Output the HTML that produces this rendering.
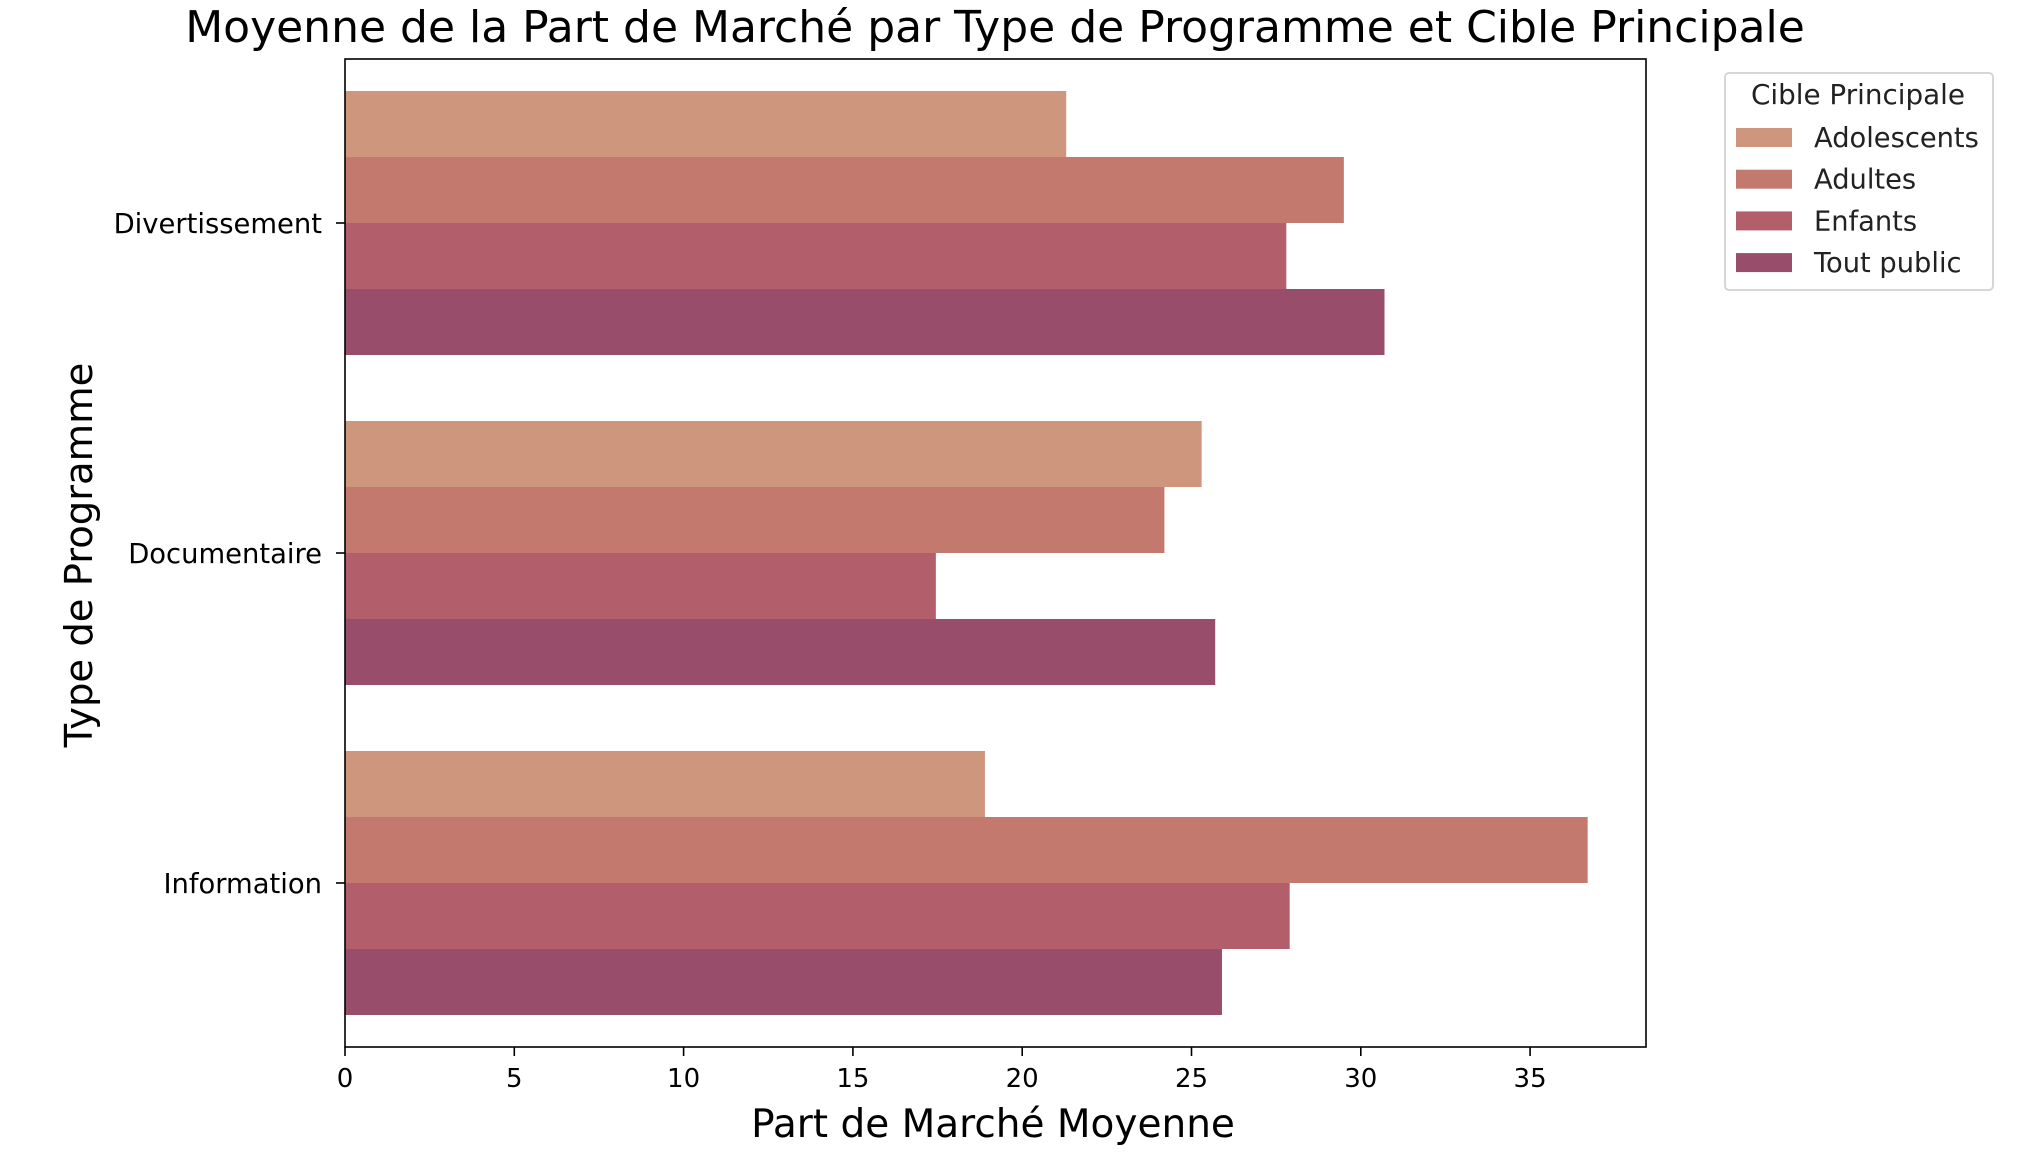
<!DOCTYPE html>
<html><head><meta charset="utf-8"><style>
html,body{margin:0;padding:0;background:#fff;}
svg{display:block;font-family:"DejaVu Sans","Liberation Sans",sans-serif;}
</style></head><body>
<svg id="chart" width="2042" height="1160" viewBox="0 0 2042 1160" xmlns="http://www.w3.org/2000/svg">
<text x="995" y="42" font-size="44" text-anchor="middle" fill="#000">Moyenne de la Part de Marché par Type de Programme et Cible Principale</text>
<g id="bars"></g>
<g id="axes"></g>
<text x="993" y="1137" font-size="39" text-anchor="middle" fill="#000">Part de Marché Moyenne</text>
<text x="0" y="0" font-size="38.5" text-anchor="middle" fill="#000" transform="translate(92,555) rotate(-90)">Type de Programme</text>
<g id="legend"></g>
</svg>
<script>
const categories = ["Divertissement", "Documentaire", "Information"];
const seriesNames = ["Adolescents", "Adultes", "Enfants", "Tout public"];
const adolescents = [21.3, 25.3, 18.9];
const adultes = [29.5, 24.2, 36.7];
const enfants = [27.8, 17.45, 27.9];
const toutPublic = [30.7, 25.7, 25.9];
const xTicks = [0, 5, 10, 15, 20, 25, 30, 35];
const xMax = 38.5;

const series = [adolescents, adultes, enfants, toutPublic];
const colors = ["#cf967e", "#c4796e", "#b25f6b", "#984e6a"];
const NS = "http://www.w3.org/2000/svg";
const L = 345, R = 1646, T = 59, B = 1047;
const xs = v => L + v * 33.86;
const groupCenter = i => 223 + i * 330;
const barH = 66;

function mk(tag, attrs, parent) {
  const e = document.createElementNS(NS, tag);
  for (const k in attrs) e.setAttribute(k, attrs[k]);
  parent.appendChild(e);
  return e;
}
const bars = document.getElementById("bars");
categories.forEach((c, i) => {
  series.forEach((s, j) => {
    const y = groupCenter(i) - 2 * barH + j * barH;
    const r = mk("rect", {x: L, y: y, width: xs(s[i]) - L, height: barH, fill: colors[j]}, bars);
    
    
  });
});
const axes = document.getElementById("axes");
const frame = mk("rect", {x: L, y: T, width: R - L, height: B - T, fill: "none", stroke: "#000", "stroke-width": 1.6}, axes);


xTicks.forEach(t => {
  const x = xs(t);
  const tk = mk("line", {x1: x, y1: B, x2: x, y2: B + 9, stroke: "#000", "stroke-width": 1.6}, axes);
  
  
  const tl = mk("text", {x: x, y: B + 40, "font-size": 26, "text-anchor": "middle", fill: "#000"}, axes);
  tl.textContent = t;
  
  
});
categories.forEach((c, i) => {
  const y = groupCenter(i);
  const tk = mk("line", {x1: L - 9, y1: y, x2: L, y2: y, stroke: "#000", "stroke-width": 1.6}, axes);
  
  
  const tl = mk("text", {x: L - 23, y: y + 10, "font-size": 27.4, "text-anchor": "end", fill: "#000"}, axes);
  tl.textContent = c;
  
  
});
const lg = document.getElementById("legend");
const box = mk("rect", {x: 1725, y: 73, width: 268, height: 217, rx: 4, fill: "#fff", stroke: "#d6d6d6", "stroke-width": 2}, lg);


const lt = mk("text", {x: 1858, y: 104, "font-size": 27.8, "text-anchor": "middle", fill: "#222"}, lg);
lt.textContent = "Cible Principale";


seriesNames.forEach((n, j) => {
  const cy = 137 + j * 41.7;
  const sw = mk("rect", {x: 1736, y: cy - 9, width: 56, height: 19, fill: colors[j]}, lg);
  
  
  const tx = mk("text", {x: 1814, y: cy + 10, "font-size": 27.3, fill: "#222"}, lg);
  tx.textContent = n;
  
  
});
</script>
</body></html>
